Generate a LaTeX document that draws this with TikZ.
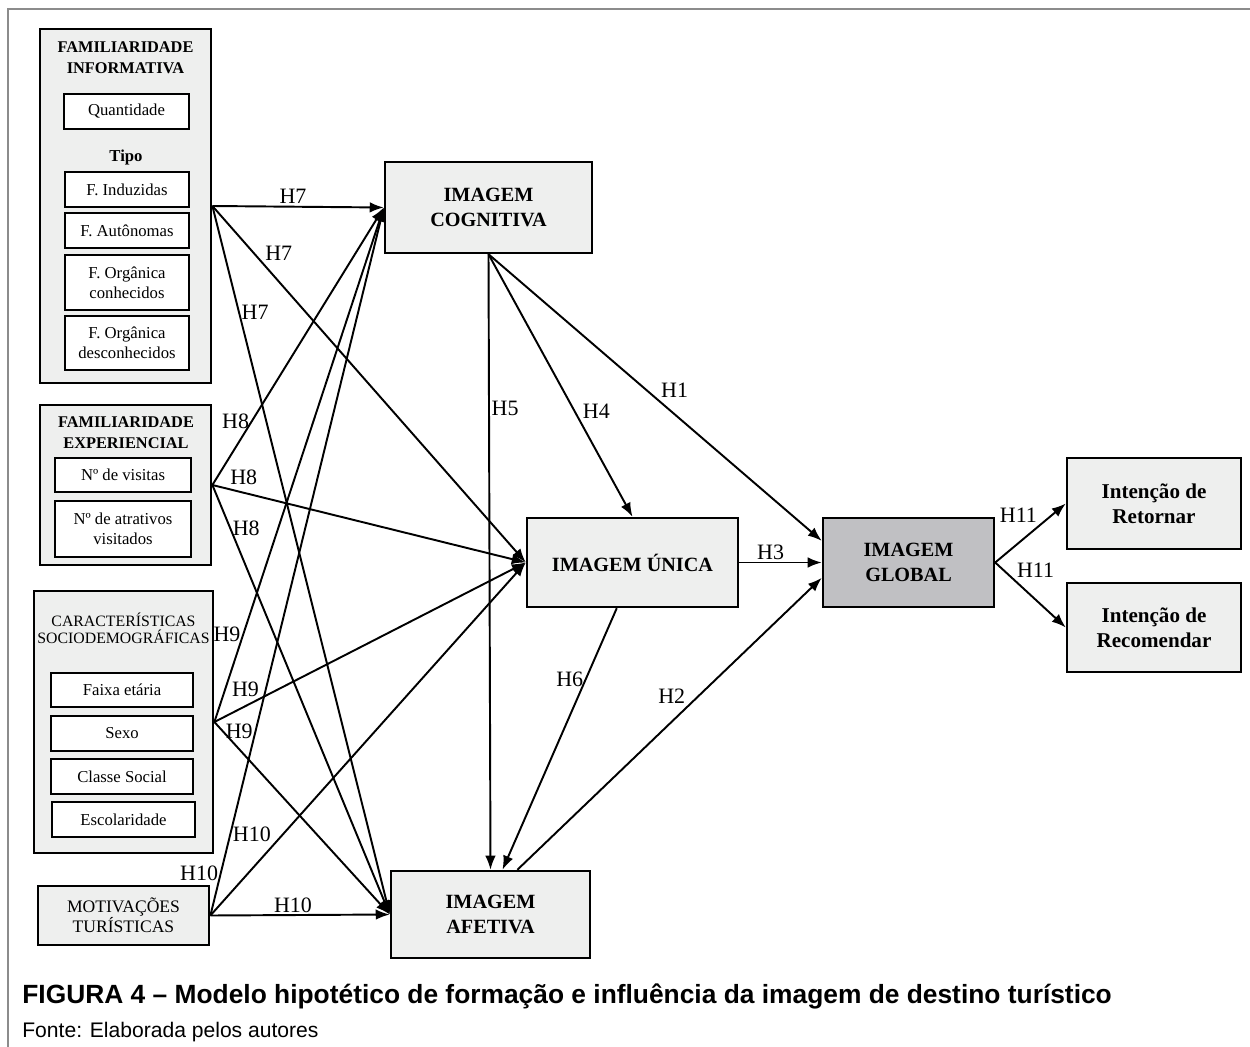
\documentclass[tikz,border=0pt]{standalone}
\usepackage{fontspec}
\setmainfont{Liberation Serif}
\newfontfamily\capfont{Liberation Sans}
\usetikzlibrary{arrows.meta, positioning}

\newdimen\unitpx
\unitpx=0.2mm

\definecolor{boxgray}{HTML}{EEEFEE}
\definecolor{globalgray}{HTML}{C0C0C3}
\definecolor{framegray}{HTML}{8C8C8C}

\tikzset{
  groupbox/.style={draw, line width=1.6pt, fill=boxgray},
  grouptitle/.style={font=\fontsize{9.3}{12}\selectfont\bfseries, align=center},
  plaintitle/.style={font=\fontsize{9}{10}\selectfont, align=center},
  itembox/.style={draw, line width=1.1pt, fill=white, inner sep=0pt,
    font=\fontsize{9.5}{11.5}\selectfont, align=center},
  imagem/.style={draw, line width=1.4pt, fill=boxgray, align=center,
    font=\fontsize{11.5}{14.5}\selectfont\bfseries},
  hyp/.style={font=\fontsize{12.5}{14}\selectfont, inner sep=1pt},
}

\begin{document}
\begin{tikzpicture}[x=0.02cm, y=-0.02cm, >={Latex[length=8pt,width=6pt]}]
\useasboundingbox (0,0) rectangle (1250,1047);
\draw[framegray, line width=1.1pt] (8,1047) -- (8,9) -- (1250,9);

% fontes de familiaridade e caracteristicas
\draw (125.5,206) node[groupbox, minimum width=171\unitpx, minimum height=354\unitpx] (fi) {};
\draw (125.5,57.5) node[grouptitle] (fititle) {FAMILIARIDADE\\INFORMATIVA};
\draw (126.5,111.5) node[itembox, minimum width=125\unitpx, minimum height=35\unitpx] (quant) {Quantidade};
\draw (126,157) node[font=\fontsize{9.5}{11}\selectfont\bfseries] (tipo) {Tipo};
\draw (127,189.5) node[itembox, minimum width=124\unitpx, minimum height=35\unitpx] (induz) {F. Induzidas};
\draw (127,230.5) node[itembox, minimum width=124\unitpx, minimum height=35\unitpx] (auton) {F. Autônomas};
\draw (127,282.5) node[itembox, minimum width=124\unitpx, minimum height=55\unitpx] (orgcon) {F. Orgânica\\conhecidos};
\draw (127,343) node[itembox, minimum width=124\unitpx, minimum height=54\unitpx] (orgdes) {F. Orgânica\\desconhecidos};

\draw (125.5,485) node[groupbox, minimum width=171\unitpx, minimum height=160\unitpx] (fe) {};
\draw (126,432.5) node[grouptitle] (fetitle) {FAMILIARIDADE\\EXPERIENCIAL};
\draw (123,475) node[itembox, minimum width=136\unitpx, minimum height=34\unitpx] (visitas) {Nº de visitas};
\draw (123,529) node[itembox, minimum width=136\unitpx, minimum height=56\unitpx] (atrativos) {Nº de atrativos\\visitados};

\draw (123.5,722) node[groupbox, minimum width=179\unitpx, minimum height=262\unitpx] (cs) {};
\draw (123.5,628.5) node[plaintitle] (cstitle) {CARACTERÍSTICAS\\SOCIODEMOGRÁFICAS};
\draw (122,690) node[itembox, minimum width=142\unitpx, minimum height=34\unitpx] (faixa) {Faixa etária};
\draw (122,733.5) node[itembox, minimum width=142\unitpx, minimum height=35\unitpx] (sexo) {Sexo};
\draw (122,776.5) node[itembox, minimum width=142\unitpx, minimum height=35\unitpx] (classe) {Classe Social};
\draw (123.5,819.5) node[itembox, minimum width=143\unitpx, minimum height=35\unitpx] (escol) {Escolaridade};

\draw (123.5,915.5) node[groupbox, minimum width=171\unitpx, minimum height=59\unitpx, plaintitle, font=\fontsize{10}{11.3}\selectfont] (mt) {MOTIVAÇÕES\\TURÍSTICAS};

% imagens
\draw (488.5,207.5) node[imagem, minimum width=207\unitpx, minimum height=91\unitpx] (ic) {IMAGEM\\COGNITIVA};
\draw (632.5,562.5) node[imagem, minimum width=211\unitpx, minimum height=89\unitpx] (iu) {IMAGEM ÚNICA};
\draw (490.5,914.5) node[imagem, minimum width=199\unitpx, minimum height=87\unitpx] (ia) {IMAGEM\\AFETIVA};
\draw (908.5,562.5) node[imagem, fill=globalgray, minimum width=171\unitpx, minimum height=89\unitpx] (ig) {IMAGEM\\GLOBAL};
\draw (1154,503.5) node[imagem, minimum width=174\unitpx, minimum height=91\unitpx, font=\fontsize{12}{14.5}\selectfont\bfseries] (ret) {Intenção de\\Retornar};
\draw (1154,627.5) node[imagem, minimum width=174\unitpx, minimum height=89\unitpx, font=\fontsize{12}{14.5}\selectfont\bfseries] (rec) {Intenção de\\Recomendar};

\path[->, line width=1.1pt]
 (fi.east) edge node[hyp, pos=0.47, above] {H7} (ic.west)
           edge node[hyp, pos=0.16, anchor=south west] {H7} (iu.west)
           edge node[hyp, pos=0.15, anchor=west] {H7} (ia.west)
 (fe.east) edge node[hyp, pos=0.23, anchor=east] {H8} (ic.west)
           edge node[hyp, pos=0.10, above=3pt] {H8} (iu.west)
           edge node[hyp, pos=0.10, anchor=west] {H8} (ia.west)
 (cs.east) edge node[hyp, pos=0.17, anchor=east] {H9} (ic.west)
           edge node[hyp, pos=0.10, above=4pt] {H9} (iu.west)
           edge node[hyp, pos=0.05, anchor=west] {H9} (ia.west)
 (mt.east) edge node[hyp, pos=0.06, anchor=east] {H10} (ic.west)
           edge node[hyp, pos=0.20, anchor=south east] {H10} (iu.west)
           edge node[hyp, pos=0.46, above] {H10} (ia.west)
 (ic.south) edge node[hyp, pos=0.6, right=3pt] {H4} (iu.north)
            edge node[hyp, pos=0.51, anchor=south west] {H1} (ig.166)
            edge node[hyp, pos=0.25, anchor=west] {H5} (ia.north)
 (iu.east) edge node[hyp, pos=0.38, above] {H3} (ig.west)
 (iu.251) edge node[hyp, pos=0.27, anchor=east] {H6} (ia.75)
 (ia.59) edge node[hyp, pos=0.56, anchor=south east] {H2} (ig.190)
 (ig.east) edge node[hyp, pos=0.63, anchor=south east] {H11} (ret.west)
           edge node[hyp, pos=0.27, anchor=south west] {H11} (rec.west);

% legenda
\draw (22,1003) node[anchor=base west, inner sep=0pt, font=\capfont\bfseries\fontsize{15}{17}\selectfont] (fig) {FIGURA 4 – Modelo hipotético de formação e influência da imagem de destino turístico};
\draw (22,1037) node[anchor=base west, inner sep=0pt, font=\capfont\fontsize{12}{14}\selectfont] (fonte) {Fonte: Elaborada pelos autores};
\end{tikzpicture}
\end{document}
